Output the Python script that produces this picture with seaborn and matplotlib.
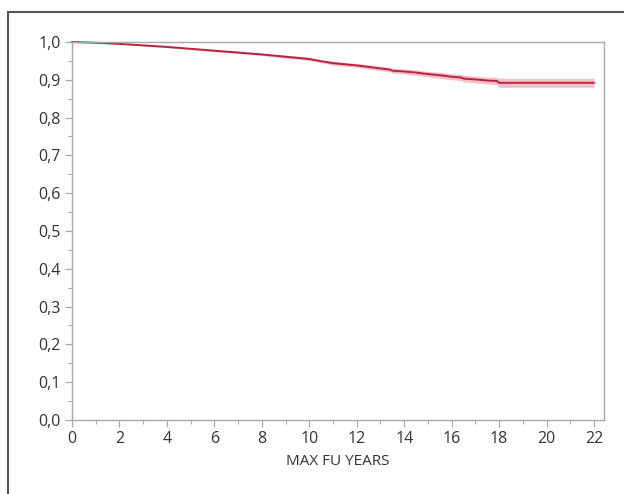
#!/usr/bin/env python3
# -*- coding: utf-8 -*-

import matplotlib
matplotlib.use("Agg")
from matplotlib import pyplot as plt
from matplotlib.lines import Line2D
from matplotlib.ticker import MultipleLocator, FuncFormatter
import seaborn as sns
import pandas as pd

# survival estimate
years = [0, 1, 2, 3, 4, 5, 6, 7, 8, 9, 10, 10.5, 11, 11.5, 12, 12.5, 13, 13.4, 13.5, 14,
         14.5, 15, 15.5, 16, 16.4, 16.5, 17, 17.5, 17.9, 18.0, 22]
survival = [1.0, 0.998, 0.995, 0.991, 0.987, 0.982, 0.977, 0.972, 0.967, 0.961, 0.955,
            0.949, 0.944, 0.941, 0.938, 0.934, 0.930, 0.927, 0.924, 0.922, 0.919, 0.915,
            0.912, 0.908, 0.906, 0.903, 0.901, 0.898, 0.897, 0.892, 0.892]
ci_half = [0.0, 0.001, 0.001, 0.002, 0.002, 0.002, 0.003, 0.003, 0.003, 0.004, 0.004,
           0.004, 0.005, 0.005, 0.005, 0.006, 0.006, 0.006, 0.006, 0.007, 0.007, 0.007,
           0.008, 0.008, 0.008, 0.009, 0.009, 0.009, 0.010, 0.012, 0.012]

LINE_COLOR = '#b82440'
BAND_COLOR = '#f7aebb'
TEXT_COLOR = '#333333'
AXIS_COLOR = '#a8a8a8'

df = pd.DataFrame({'years': years, 'survival': survival, 'ci': ci_half})
df['lo'] = df['survival'] - df['ci']
df['hi'] = df['survival'] + df['ci']

sns.set_style('white')
plt.rcParams['font.family'] = ['Open Sans', 'DejaVu Sans']

fig = plt.figure(figsize=(6.24, 4.94), dpi=100)
ax = fig.add_axes([0.1154, 0.150, 0.968 - 0.1154, 0.915 - 0.150])

ax.fill_between(df['years'], df['lo'], df['hi'], color=BAND_COLOR, alpha=0.8, lw=0)
sns.lineplot(data=df, x='years', y='survival', ax=ax, color=LINE_COLOR, lw=1.4, clip_on=False)

ax.set_xlim(0, 22.42)
ax.set_ylim(0, 1.0)
ax.xaxis.set_major_locator(MultipleLocator(2))
ax.xaxis.set_minor_locator(MultipleLocator(1))
ax.yaxis.set_major_locator(MultipleLocator(0.1))
ax.yaxis.set_minor_locator(MultipleLocator(0.05))
ax.yaxis.set_major_formatter(FuncFormatter(lambda v, p: f'{v:.1f}'.replace('.', ',')))

for s in ax.spines.values():
    s.set_color(AXIS_COLOR)
    s.set_linewidth(1.0)
ax.tick_params(which='major', direction='out', length=5, width=0.9, color=AXIS_COLOR,
               labelsize=11.5, labelcolor=TEXT_COLOR, pad=3, bottom=True, left=True)
ax.tick_params(which='minor', direction='out', length=3, width=0.8, color=AXIS_COLOR,
               bottom=True, left=True)

ax.set_xlabel('MAX FU YEARS', fontsize=11, color=TEXT_COLOR, labelpad=5)
ax.set_ylabel('')

# outer frame (top and left edges of the cropped box)
fig.add_artist(Line2D([8 / 624, 8 / 624], [0, 1 - 12 / 494], transform=fig.transFigure,
                      color='#555555', lw=1.5))
fig.add_artist(Line2D([8 / 624, 1], [1 - 12 / 494, 1 - 12 / 494], transform=fig.transFigure,
                      color='#555555', lw=1.5))

plt.savefig('out.png', dpi=100)
